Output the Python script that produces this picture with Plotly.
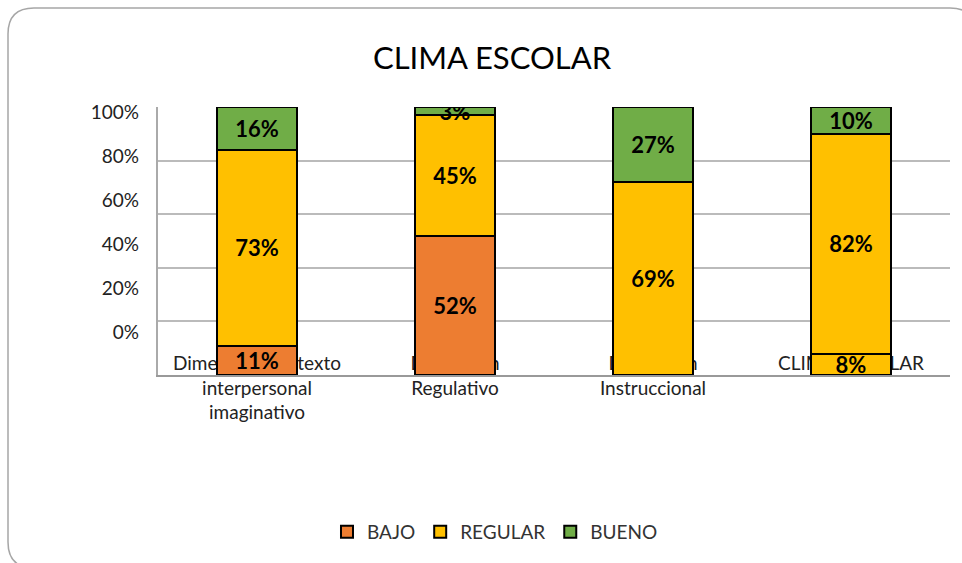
import plotly.graph_objects as go

categories = ["Dimensión contexto<br>interpersonal<br>imaginativo",
              "Dimensión<br>Regulativo",
              "Dimensión<br>Instruccional",
              "CLIMA ESCOLAR"]
bajo = [0.11, 0.52, 0.0, 0.08]
regular = [0.73, 0.45, 0.69, 0.82]
bueno = [0.16, 0.03, 0.27, 0.10]
y_tick_vals = [0, 0.2, 0.4, 0.6, 0.8, 1.0]
y_tick_text = ["0%", "20%", "40%", "60%", "80%", "100%"]

FONT = "Lato"
W, H = 962, 563
L, R, T, B = 158, 12, 107, 188
PW, PH = W - L - R, H - T - B


def lbl(vals):
    return [f"{v:.0%}" if v > 0 else "" for v in vals]


fig = go.Figure()
series = [
    ("BAJO", bajo, ["#ED7D31", "#ED7D31", "#ED7D31", "#FFC000"]),
    ("REGULAR", regular, "#FFC000"),
    ("BUENO", bueno, "#70AD47"),
]
for name, vals, col in series:
    fig.add_trace(go.Bar(
        name=name, x=categories, y=vals, text=lbl(vals),
        textposition="inside", insidetextanchor="middle", textangle=0,
        constraintext="none",
        textfont=dict(family=FONT, size=22, color="black", weight="bold"),
        marker=dict(color=col, line=dict(color="black", width=2)),
    ))

# invisible trace so the label axis is drawn
fig.add_trace(go.Scatter(x=[categories[0]], y=[0.5], yaxis="y2", mode="markers",
                         marker=dict(opacity=0), showlegend=False, hoverinfo="skip"))


def px(x):
    return (x - L) / PW


def py(y):
    return (H - B - y) / PH


# rounded chart frame
x0, y0, x1, y1, r = 8, 8, 976, 568, 26
path = (f"M {px(x0)} {py(y0 + r)} Q {px(x0)} {py(y0)} {px(x0 + r)} {py(y0)} "
        f"L {px(x1 - r)} {py(y0)} Q {px(x1)} {py(y0)} {px(x1)} {py(y0 + r)} "
        f"L {px(x1)} {py(y1 - r)} Q {px(x1)} {py(y1)} {px(x1 - r)} {py(y1)} "
        f"L {px(x0 + r)} {py(y1)} Q {px(x0)} {py(y1)} {px(x0)} {py(y1 - r)} Z")

fig.update_layout(
    width=W, height=H,
    margin=dict(l=L, r=R, t=T, b=B),
    paper_bgcolor="white", plot_bgcolor="white",
    barmode="stack", barnorm="fraction", bargap=0.6,
    uniformtext=dict(mode="show", minsize=22),
    font=dict(family=FONT, color="#222222"),
    title=dict(text="CLIMA ESCOLAR", font=dict(family=FONT, size=31, color="black"),
               x=492 / W, xref="container", xanchor="center",
               y=1 - 58 / H, yref="container", yanchor="middle"),
    xaxis=dict(showline=True, linecolor="#999999", linewidth=2, ticks="",
               tickfont=dict(family=FONT, size=19, color="#222222"),
               ticklabelstandoff=-30, layer="below traces", showgrid=False),
    yaxis=dict(range=[0, 1], tickvals=y_tick_vals, showticklabels=False,
               showgrid=True, gridcolor="#BBBBBB", gridwidth=2,
               showline=True, linecolor="#AAAAAA", linewidth=2, zeroline=False),
    yaxis2=dict(overlaying="y", side="left", range=[-0.1954, 1.0228],
                tickvals=y_tick_vals, ticktext=y_tick_text, showgrid=False,
                zeroline=False, showline=False, ticks="", ticklabelstandoff=18,
                tickfont=dict(family=FONT, size=19, color="#222222")),
    legend=dict(orientation="h", x=0.4255, xanchor="center", y=py(532),
                yanchor="middle", font=dict(family=FONT, size=19, color="#333333"),
                traceorder="normal"),
    shapes=[dict(type="path", path=path, xref="paper", yref="paper",
                 line=dict(color="#A6A6A6", width=1.5), layer="below")],
    showlegend=True,
)

fig.write_html("out.html", config={"displayModeBar": False},
               post_script="document.body.style.margin='0px';document.body.style.overflow='hidden';")
